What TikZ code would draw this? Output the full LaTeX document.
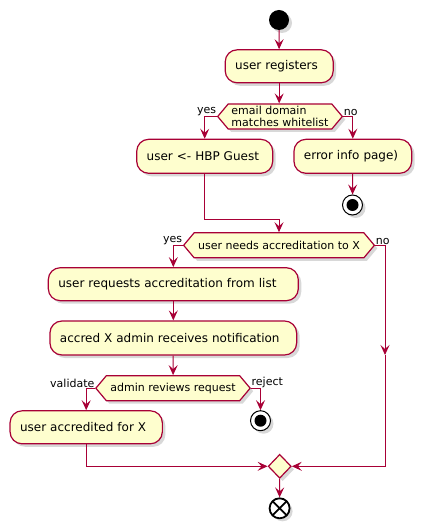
\documentclass[tikz,border=0pt]{standalone}
\usepackage{fontspec}
\setmainfont{DejaVu Sans}
\usetikzlibrary{arrows.meta,shapes.geometric,shapes.symbols,shadows}
\definecolor{umlred}{HTML}{A80036}
\definecolor{umlfill}{HTML}{FEFECE}

\begin{document}
\begin{tikzpicture}[x=1pt, y=-1pt,
  umlshadow/.style={drop shadow={opacity=0.3, shadow xshift=3pt, shadow yshift=-3pt}},
  line/.style={draw=umlred, line width=1pt},
  flow/.style={line, -{Stealth[length=10pt, width=9pt, inset=4pt]}},
  act/.style={draw=umlred, fill=umlfill, line width=1.2pt, rounded corners=12pt, inner xsep=10pt, align=left, minimum height=33pt, font=\fontsize{12}{14}\selectfont, umlshadow},
  test/.style={signal, signal to=west and east, signal pointer angle=100, draw=umlred, fill=umlfill, line width=1.2pt, inner xsep=2pt, inner ysep=0pt, minimum height=25pt, align=left, font=\fontsize{11}{12.5}\selectfont, umlshadow},
  merge/.style={diamond, draw=umlred, fill=umlfill, line width=1.2pt, inner sep=0pt, minimum width=23pt, minimum height=24pt, umlshadow},
  lbl/.style={font=\fontsize{11}{12}\selectfont, inner sep=0.5pt},
  startdot/.style={circle, fill=black, minimum size=20pt, inner sep=0pt, umlshadow},
  stopdot/.style={circle, draw=black, fill=white, line width=1pt, minimum size=20pt, inner sep=0pt, umlshadow, path picture={\fill[black] (path picture bounding box.center) circle (6pt);}},
  enddot/.style={circle, draw=black, fill=white, line width=1.8pt, minimum size=20pt, inner sep=0pt, umlshadow, path picture={\draw[black, line width=1.8pt] (path picture bounding box.north west) -- (path picture bounding box.south east) (path picture bounding box.north east) -- (path picture bounding box.south west);}}]
\fill[white] (0,0) rectangle (423,529);
\useasboundingbox (0,0) rectangle (423,529);

\node[startdot] (start) at (279,20) {};
\node[act, text width=88pt] (reg) at (279.2,66.3) {user registers};
\node[test, minimum width=124.6pt] (q1) at (280,116.5) {email domain\\matches whitelist};
\node[act, text width=116pt, minimum height=34pt] (hbp) at (204.7,156.3) {user <- HBP Guest};
\node[act, text width=97.7pt, minimum height=34pt] (err) at (352.8,156.3) {error info page)};
\node[stopdot] (stop1) at (352.5,205) {};
\node[test, minimum width=190.7pt] (q2) at (279,245.3) {user needs accreditation to X};
\node[act, text width=230pt] (req) at (173.3,284.2) {user requests accreditation from list};
\node[act, text width=226.7pt, minimum height=34pt] (ntf) at (173.3,338) {accred X admin receives notification};
\node[test, minimum width=154.3pt] (q3) at (173,388.2) {admin reviews request};
\node[act, text width=132.3pt] (acc) at (86.2,427.3) {user accredited for X};
\node[stopdot] (stop2) at (260.5,420.7) {};
\node[merge] (m) at (279.7,466.3) {};
\node[enddot] (end) at (279.6,508.3) {};

\node[lbl, anchor=south east] (y1) at (q1.west) {yes};
\node[lbl, anchor=south west] (n1) at (q1.east) {no};
\node[lbl, anchor=south east] (y2) at (q2.west) {yes};
\node[lbl, anchor=south west] (n2) at (q2.east) {no};
\node[lbl, anchor=south east] (v3) at (q3.west) {validate};
\node[lbl, anchor=south west] (r3) at (q3.east) {reject};

\coordinate (j1) at (279,219);
\coordinate (j2) at (385,355);

\draw[flow] (start) -- (reg);
\draw[flow] (reg) -- (reg |- q1.north);
\draw[flow] (q1.west) -| (hbp.north);
\draw[flow] (q1.east) -| (err.north);
\draw[flow] (err) -- (stop1);
\draw[flow] (hbp.south) |- (j1) -- (q2.north);
\draw[flow] (q2.west) -| (req.north);
\draw[flow] (req) -- (ntf);
\draw[flow] (ntf) -- (q3);
\draw[flow] (q3.west) -| (acc.north);
\draw[flow] (q3.east) -| (stop2.north);
\draw[flow] (acc.south) |- (m.west);
\draw[flow] (q2.east) -| (j2);
\draw[flow] (j2) |- (m.east);
\draw[flow] (m) -- (end);
\end{tikzpicture}
\end{document}
